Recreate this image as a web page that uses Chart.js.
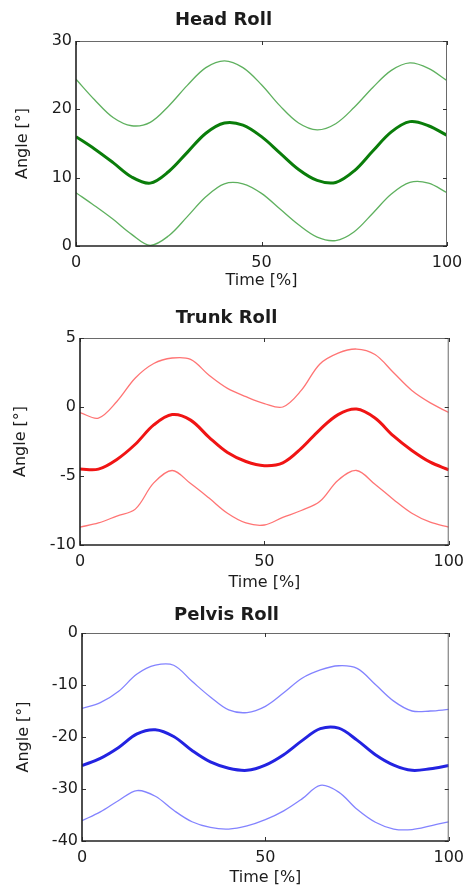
<!DOCTYPE html>
<html>
<head>
<meta charset="utf-8">
<title>Head / Trunk / Pelvis Roll</title>
<script src="https://cdn.jsdelivr.net/npm/chart.js@4.4.1/dist/chart.umd.min.js"></script>
<style>
  html, body { margin: 0; padding: 0; background: #fff; }
  body { position: relative; width: 471px; height: 891px; overflow: hidden; }
  canvas { position: absolute; left: 0; }
</style>
</head>
<body>
<canvas id="chartHead" width="471" height="300" style="top:0px"></canvas>
<canvas id="chartTrunk" width="471" height="300" style="top:300px"></canvas>
<canvas id="chartPelvis" width="471" height="296" style="top:595px"></canvas>

<script>
/* ========================================
   Roll angles over the gait cycle
   ======================================== */

// Shared time axis (% of cycle)
const time = [0, 5, 10, 15, 20, 25, 30, 35, 40, 45, 50, 55, 60, 65, 70, 75, 80, 85, 90, 95, 100];
const timeTicks = [0, 50, 100];

// Head roll: mean and +/- band
const headUpper = [24.4, 21.4, 18.8, 17.6, 18.1, 20.5, 23.5, 26.1, 27.1, 26.1, 23.6, 20.5, 18.0, 17.0, 17.9, 20.3, 23.2, 25.7, 26.8, 26.0, 24.2];
const headMean  = [16.0, 14.2, 12.2, 10.1, 9.2, 10.9, 13.7, 16.5, 18.0, 17.7, 16.0, 13.6, 11.2, 9.6, 9.3, 11.0, 13.9, 16.7, 18.2, 17.6, 16.2];
const headLower = [7.8, 5.9, 3.9, 1.7, 0.1, 1.5, 4.3, 7.2, 9.1, 9.1, 7.7, 5.4, 3.1, 1.3, 0.8, 2.1, 4.8, 7.6, 9.3, 9.2, 7.8];
const headTicks = [0, 10, 20, 30];

// Trunk roll
const trunkUpper = [-0.4, -0.8, 0.4, 2.1, 3.15, 3.55, 3.45, 2.3, 1.35, 0.75, 0.25, 0.0, 1.2, 3.1, 3.9, 4.2, 3.8, 2.5, 1.2, 0.3, -0.4];
const trunkMean  = [-4.5, -4.5, -3.8, -2.7, -1.3, -0.55, -0.95, -2.2, -3.3, -3.95, -4.25, -4.05, -3.0, -1.65, -0.55, -0.15, -0.8, -2.1, -3.15, -4.0, -4.55];
const trunkLower = [-8.7, -8.4, -7.9, -7.4, -5.5, -4.6, -5.55, -6.6, -7.7, -8.4, -8.55, -8.0, -7.5, -6.85, -5.3, -4.6, -5.6, -6.7, -7.7, -8.35, -8.7];
const trunkTicks = [-10, -5, 0, 5];

// Pelvis roll
const pelvisUpper = [-14.5, -13.4, -11.2, -7.9, -6.2, -6.2, -9.3, -12.3, -14.8, -15.3, -14.1, -11.5, -8.7, -7.1, -6.3, -6.8, -9.9, -13.1, -15.0, -15.0, -14.7];
const pelvisMean  = [-25.5, -24.1, -22.0, -19.4, -18.6, -19.9, -22.6, -24.8, -26.0, -26.4, -25.4, -23.4, -20.7, -18.4, -18.3, -20.6, -23.4, -25.4, -26.4, -26.1, -25.5];
const pelvisLower = [-36.1, -34.4, -32.2, -30.3, -31.4, -34.1, -36.3, -37.4, -37.7, -37.1, -35.9, -34.2, -31.9, -29.3, -30.6, -33.9, -36.4, -37.7, -37.8, -37.1, -36.3];
const pelvisTicks = [-40, -30, -20, -10, 0];

const FONT = "'DejaVu Sans', 'Liberation Sans', sans-serif";
const TEXT = '#1c1c1c';

/**
 * Box around the plot with MATLAB style inward ticks
 */
const framePlugin = {
    id: 'frame',
    afterDatasetsDraw(chart) {
        const { ctx, chartArea: a, scales } = chart;
        const len = 4;
        ctx.save();
        // top and right edges, lighter
        ctx.strokeStyle = '#6a6a6a';
        ctx.lineWidth = 1;
        ctx.beginPath();
        ctx.moveTo(a.left, a.top + 0.5);
        ctx.lineTo(a.right - 0.5, a.top + 0.5);
        ctx.lineTo(a.right - 0.5, a.bottom);
        ctx.stroke();
        // inward ticks
        ctx.strokeStyle = '#333';
        ctx.beginPath();
        scales.x.ticks.forEach(t => {
            const px = Math.round(scales.x.getPixelForValue(t.value)) + 0.5;
            ctx.moveTo(px, a.bottom); ctx.lineTo(px, a.bottom - len);
            ctx.moveTo(px, a.top); ctx.lineTo(px, a.top + len);
        });
        scales.y.ticks.forEach(t => {
            const py = Math.round(scales.y.getPixelForValue(t.value)) + 0.5;
            ctx.moveTo(a.left, py); ctx.lineTo(a.left + len, py);
            ctx.moveTo(a.right, py); ctx.lineTo(a.right - len, py);
        });
        ctx.stroke();
        // left and bottom edges, dark
        ctx.strokeStyle = '#222';
        ctx.lineWidth = 1.6;
        ctx.beginPath();
        ctx.moveTo(a.left, a.top);
        ctx.lineTo(a.left, a.bottom);
        ctx.lineTo(a.right, a.bottom);
        ctx.stroke();
        ctx.restore();
    }
};

function serie(values, color, width) {
    return {
        data: values.map((v, i) => ({ x: time[i], y: v })),
        borderColor: color,
        borderWidth: width,
        pointRadius: 0,
        tension: 0.35,
        fill: false
    };
}

/**
 * One panel. box = pixel layout inside its canvas
 */
function crearPanel(id, titulo, upper, mean, lower, yTicks, colors, box) {
    const ctx = document.getElementById(id);
    const canvasH = ctx.height;
    const titleSize = 18, titleLH = titleSize * 1.2;
    const tickSize = 16, axisSize = 16, axisLH = axisSize * 1.2;
    const padTop = box.titleY - titleLH / 2;

    return new Chart(ctx, {
        type: 'line',
        data: {
            datasets: [
                serie(upper, colors.thin, 1.3),
                serie(lower, colors.thin, 1.3),
                serie(mean, colors.thick, 3)
            ]
        },
        options: {
            responsive: false,
            animation: false,
            layout: {
                padding: { top: padTop, left: 0, right: 471 - box.right, bottom: 0 }
            },
            plugins: {
                legend: { display: false },
                tooltip: { enabled: false },
                title: {
                    display: true,
                    text: titulo,
                    color: TEXT,
                    font: { family: FONT, size: titleSize, weight: 'bold', lineHeight: 1.2 },
                    padding: { top: 0, bottom: box.top - padTop - titleLH }
                }
            },
            scales: {
                x: {
                    type: 'linear',
                    min: 0,
                    max: 100,
                    afterBuildTicks: s => { s.ticks = timeTicks.map(v => ({ value: v })); },
                    afterFit: s => { s.height = canvasH - box.bottom; },
                    grid: { display: false, drawTicks: false },
                    border: { display: false },
                    ticks: {
                        color: TEXT,
                        padding: 7,
                        maxRotation: 0,
                        font: { family: FONT, size: tickSize }
                    },
                    title: {
                        display: true,
                        text: 'Time [%]',
                        color: TEXT,
                        font: { family: FONT, size: axisSize, lineHeight: 1.2 },
                        padding: { top: 0, bottom: canvasH - box.timeY - axisLH / 2 }
                    }
                },
                y: {
                    min: yTicks[0],
                    max: yTicks[yTicks.length - 1],
                    afterBuildTicks: s => { s.ticks = yTicks.map(v => ({ value: v })); },
                    afterFit: s => { s.width = box.left; },
                    grid: { display: false, drawTicks: false },
                    border: { display: false },
                    ticks: {
                        color: TEXT,
                        padding: 4,
                        font: { family: FONT, size: tickSize }
                    },
                    title: {
                        display: true,
                        text: 'Angle [°]',
                        color: TEXT,
                        font: { family: FONT, size: axisSize, lineHeight: 1.2 },
                        padding: { top: box.angleX - axisLH / 2, bottom: 0 }
                    }
                }
            }
        },
        plugins: [framePlugin]
    });
}

crearPanel('chartHead', 'Head Roll', headUpper, headMean, headLower, headTicks,
    { thin: 'rgba(40, 150, 40, 0.75)', thick: 'rgb(10, 125, 10)' },
    { left: 76, right: 447, top: 41, bottom: 246, titleY: 20, timeY: 281, angleX: 23 });

crearPanel('chartTrunk', 'Trunk Roll', trunkUpper, trunkMean, trunkLower, trunkTicks,
    { thin: 'rgba(255, 70, 70, 0.75)', thick: 'rgb(240, 20, 20)' },
    { left: 80, right: 453, top: 38, bottom: 245, titleY: 18, timeY: 283, angleX: 21 });

crearPanel('chartPelvis', 'Pelvis Roll', pelvisUpper, pelvisMean, pelvisLower, pelvisTicks,
    { thin: 'rgba(90, 90, 255, 0.75)', thick: 'rgb(35, 35, 225)' },
    { left: 82, right: 453, top: 38, bottom: 246, titleY: 20, timeY: 283, angleX: 24 });
</script>
</body>
</html>
